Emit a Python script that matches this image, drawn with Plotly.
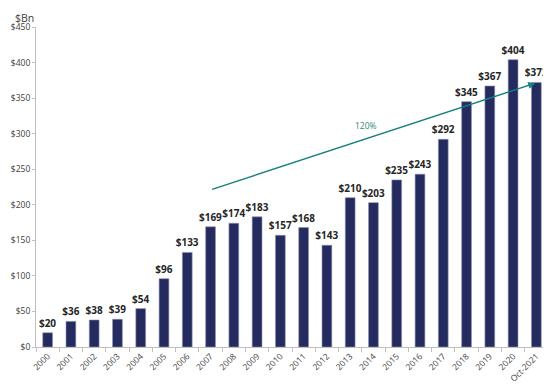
import plotly.graph_objects as go

years = ["2000", "2001", "2002", "2003", "2004", "2005", "2006", "2007", "2008", "2009", "2010",
         "2011", "2012", "2013", "2014", "2015", "2016", "2017", "2018", "2019", "2020", "Oct-2021"]
values = [20, 36, 38, 39, 54, 96, 133, 169, 174, 183, 157, 168, 143, 210, 203, 235, 243, 292, 345, 367, 404, 372]
labels = ["$" + str(v) for v in values]
y_ticks = [0, 50, 100, 150, 200, 250, 300, 350, 400, 450]
y_tick_text = ["$" + str(v) for v in y_ticks]
idx = list(range(len(years)))

fig = go.Figure()
fig.add_trace(go.Bar(
    x=idx, y=values,
    marker=dict(color="#252b5e", line=dict(color="#8a8fb0", width=0.6)),
    width=0.42,
    text=labels, textposition="outside", cliponaxis=False, constraintext="none",
    textfont=dict(family="Open Sans, Arial", size=10, color="#262626", weight="bold"),
))

fig.add_annotation(
    x=20.95, y=371, ax=7, ay=221, xref="x", yref="y", axref="x", ayref="y",
    showarrow=True, arrowhead=2, arrowsize=1, arrowwidth=1.4, arrowcolor="#168080", text="",
)
fig.add_annotation(x=13.7, y=311, xref="x", yref="y", text="120%", showarrow=False,
                   font=dict(family="Open Sans, Arial", size=8.5, color="#2a8a78"))
fig.add_annotation(x=-0.045, y=1.055, xref="paper", yref="paper", xanchor="left", yanchor="top",
                   text="$Bn", showarrow=False,
                   font=dict(family="Open Sans, Arial", size=10.5, color="#404040"))

fig.update_layout(
    width=543, height=379,
    margin=dict(l=23, r=3, t=19, b=40),
    plot_bgcolor="white", paper_bgcolor="white",
    showlegend=False,
)
fig.update_xaxes(
    tickmode="array", tickvals=idx, ticktext=years,
    range=[-0.5, len(years) - 0.5],
    tickangle=-45, showline=True, linecolor="#bfbfbf", linewidth=1,
    ticks="",
    minor=dict(tick0=0.5, dtick=1, ticks="outside", ticklen=4, tickcolor="#bfbfbf", showgrid=False),
    tickfont=dict(family="Open Sans, Arial", size=8.5, color="#404040"),
    showgrid=False, zeroline=False,
)
fig.update_yaxes(
    range=[0, 450], tickvals=y_ticks, ticktext=y_tick_text,
    showline=True, linecolor="#bfbfbf", linewidth=1,
    ticks="outside", ticklen=3, tickcolor="#bfbfbf",
    tickfont=dict(family="Open Sans, Arial", size=8.5, color="#404040"),
    showgrid=False, zeroline=False,
)
fig.write_html("out.html", config={"displayModeBar": False})
